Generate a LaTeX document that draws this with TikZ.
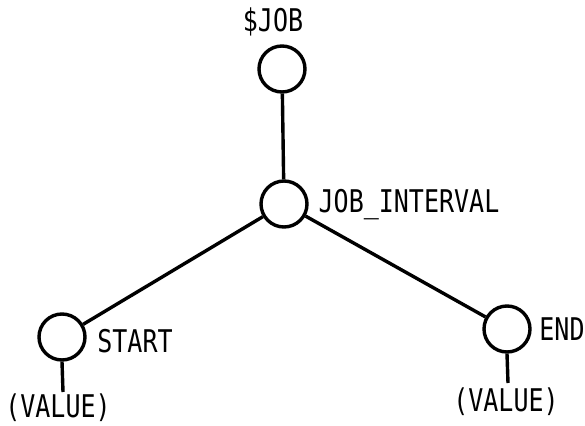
\documentclass[tikz,border=0pt]{standalone}
\usepackage{fontspec}
\usepackage{graphicx}
\newfontfamily\labelfont{DejaVu Sans Mono}
\tikzset{
  ball/.style={circle,draw,line width=3.4pt,minimum size=46pt,inner sep=0pt},
  conn/.style={line width=3.4pt},
  lbl/.style={inner sep=0pt,anchor=base,font=\labelfont\fontsize{25}{25}\selectfont}
}
\newcommand{\tall}[1]{\scalebox{1}[1.25]{#1}}
\begin{document}
\begin{tikzpicture}[x=1pt,y=-1pt]
\useasboundingbox (0,0) rectangle (585,425);
\node[ball] (job) at (282,69) {};
\node[ball] (ji) at (284,204) {};
\node[ball] (start) at (62,337) {};
\node[ball] (end) at (507,329) {};
\coordinate (sv) at (63,392);
\coordinate (ev) at (508,383);
\node[lbl] (tjob) at (273,32) {\tall{\$JOB}};
\node[lbl] (tji) at (409,212) {\tall{JOB\_INTERVAL}};
\node[lbl] (tstart) at (135,352) {\tall{START}};
\node[lbl] (tend) at (562,340) {\tall{END}};
\node[lbl] (v1) at (58,417) {\tall{(VALUE)}};
\node[lbl] (v2) at (506,411) {\tall{(VALUE)}};
\draw[conn] (job) -- (ji);
\draw[conn] (ji) -- (start);
\draw[conn] (ji) -- (end);
\draw[conn] (start.south) -- (sv);
\draw[conn] (end.south) -- (ev);
\end{tikzpicture}
\end{document}
